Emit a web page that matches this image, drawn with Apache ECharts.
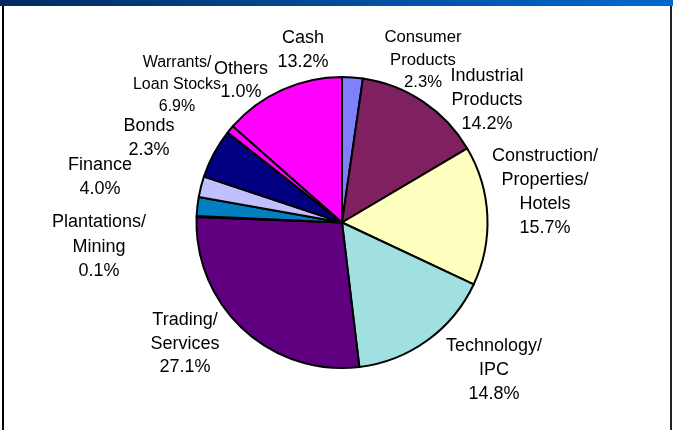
<!DOCTYPE html>
<html>
<head>
<meta charset="utf-8">
<script src="https://cdn.jsdelivr.net/npm/echarts@6/dist/echarts.min.js"></script>
<style>
html,body{margin:0;padding:0;background:#fff;}
#chart{width:673px;height:430px;}
</style>
</head>
<body>
<div id="chart"></div>
<script>
// Categories in clockwise order starting at 12 o'clock
const categories = ['Consumer\nProducts', 'Industrial\nProducts', 'Construction/\nProperties/\nHotels', 'Technology/\nIPC', 'Trading/\nServices', 'Plantations/\nMining', 'Finance', 'Bonds', 'Warrants/\nLoan Stocks', 'Others', 'Cash'];
// Slice sizes as drawn in the picture (%)
const sliceValues = [2.3, 14.2, 15.5, 16.1, 27.5, 0.1, 2.1, 2.3, 5.5, 0.9, 13.5];
// Percentages printed on the labels
const printedPct = ['2.3%', '14.2%', '15.7%', '14.8%', '27.1%', '0.1%', '4.0%', '2.3%', '6.9%', '1.0%', '13.2%'];

// Styling / layout (kept out of the data arrays)
const colors = ['#8080ff', '#7f2060', '#ffffc0', '#a0e0e0', '#600080', '#ff8080', '#0080c0', '#c0c0ff', '#000080', '#ff00ff', '#ff00ff'];
const labelCenters = [[423, 60], [487, 100], [545, 192], [494, 370], [185, 344], [99, 247], [100, 177], [149, 138], [177, 85], [241, 80.5], [303, 50]];
const labelFont = [16.7, 18, 18, 18, 18, 18, 18, 18, 16, 18, 18];
const labelLH = [22.5, 24, 24, 24, 23.5, 24.5, 24, 24, 22, 23, 24];

const chart = echarts.init(document.getElementById('chart'), null, {renderer: 'canvas'});

const data = sliceValues.map((v, i) => ({
  value: v,
  name: categories[i],
  itemStyle: {color: colors[i]},
  label: {fontSize: labelFont[i], lineHeight: labelLH[i]}
}));

chart.setOption({
  animation: false,
  backgroundColor: '#ffffff',
  graphic: [
    {type: 'rect', shape: {x: 0, y: 0, width: 673, height: 6}, style: {fill: new echarts.graphic.LinearGradient(0, 0, 1, 0, [{offset: 0, color: '#002a60'}, {offset: 0.5, color: '#004c9a'}, {offset: 1, color: '#0068d0'}])}},
    {type: 'rect', shape: {x: 2, y: 6, width: 2, height: 424}, style: {fill: '#000'}},
    {type: 'rect', shape: {x: 670, y: 6, width: 2, height: 424}, style: {fill: '#222'}}
  ],
  series: [{
    type: 'pie',
    center: [342, 222.5],
    radius: [0, 145.5],
    startAngle: 90,
    clockwise: true,
    minAngle: 0,
    avoidLabelOverlap: false,
    silent: true,
    itemStyle: {borderColor: '#000', borderWidth: 2},
    label: {
      show: true,
      position: 'outside',
      color: '#000',
      fontFamily: 'Liberation Sans, Arial, sans-serif',
      align: 'center',
      formatter: p => categories[p.dataIndex] + '\n' + printedPct[p.dataIndex]
    },
    labelLine: {show: false},
    labelLayout: params => {
      const c = labelCenters[params.dataIndex];
      return {x: c[0], y: c[1], align: 'center', verticalAlign: 'middle', hideOverlap: false, moveOverlap: null};
    },
    emphasis: {disabled: true},
    data: data
  }]
});
</script>
</body>
</html>
